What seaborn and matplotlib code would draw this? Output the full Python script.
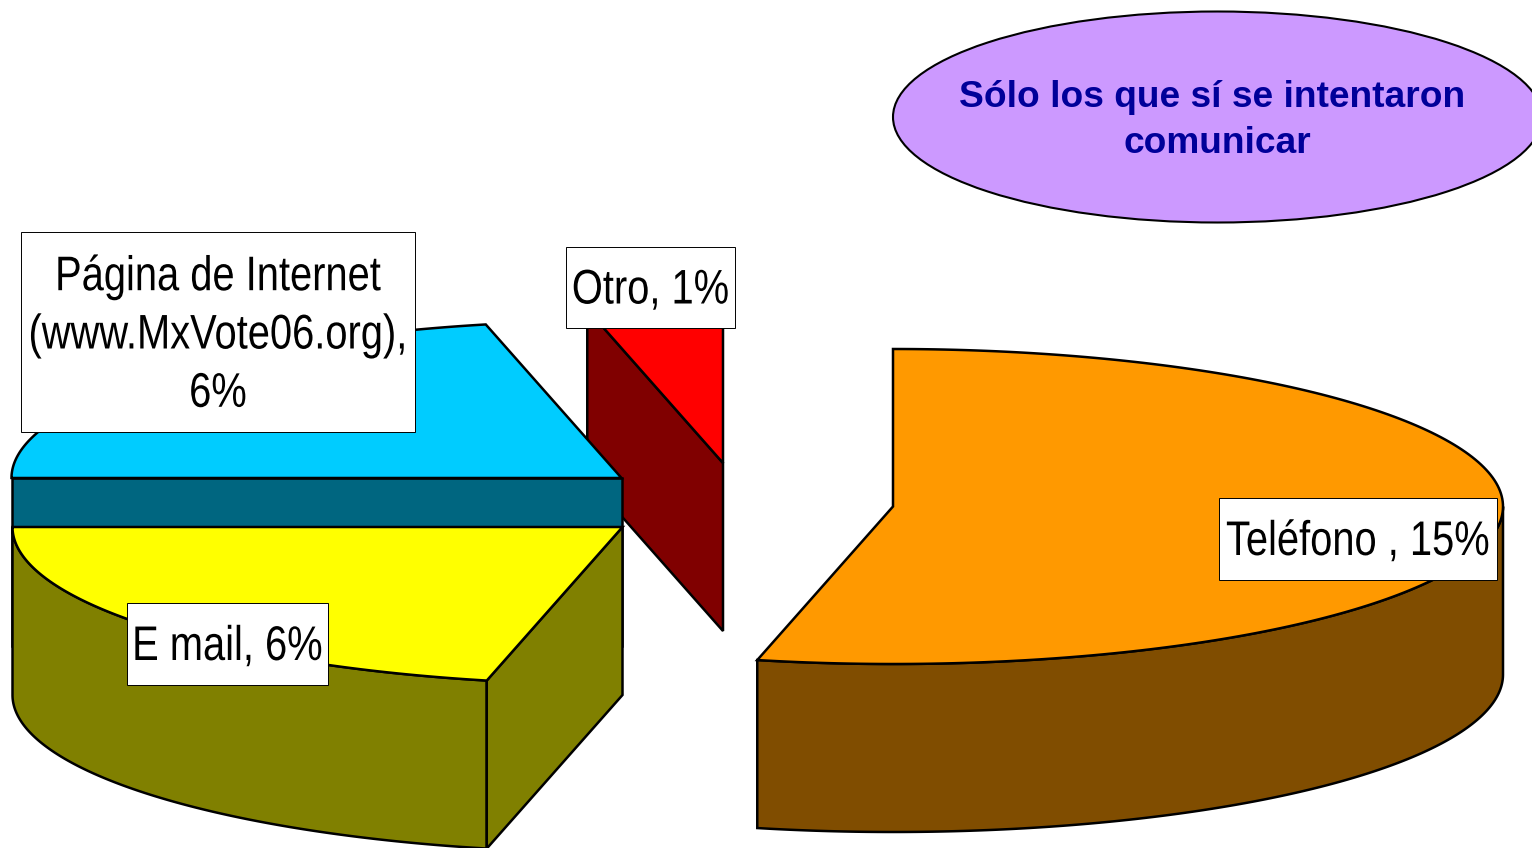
import matplotlib
matplotlib.use('Agg')
import matplotlib.pyplot as plt
import matplotlib.patheffects as pe
from matplotlib.patches import Ellipse, Rectangle
from matplotlib.transforms import Affine2D
import numpy as np
import seaborn as sns

# values of the pie, in drawing order round the circle
categories = ['Teléfono', 'E mail', 'Página de Internet', 'Otro']
values = [15, 6, 6, 1]
labels = ['Teléfono , 15%', 'E mail, 6%', 'Página de Internet\n(www.MxVote06.org),\n6%', 'Otro, 1%']
top_colors = ['#FF9900', '#FFFF00', '#00CCFF', '#FF0000']
side_colors = ['#804D00', '#808000', '#006680', '#800000']
note = 'Sólo los que sí se intentaron \ncomunicar'

# where each exploded slice sits and where its label box goes, in pixels
centers = [(893, 506.5), (622.5, 527), (621.5, 478), (723, 463)]
boxes = [(1219, 498, 278, 82), (127, 603, 201, 82), (21, 232, 394, 200), (566, 247, 169, 81)]
RX, RY, DEPTH = 610, 157.5, 168
LW = 1.8
NARROW = 0.82  # no Arial Narrow here, so the labels get squeezed when drawn


class Squeeze(pe.AbstractPathEffect):
    # narrows the glyphs around anchor and puts them back centred on center
    def __init__(self, anchor, center):
        super().__init__()
        self.anchor = anchor
        self.center = center

    def draw_path(self, renderer, gc, tpath, affine, rgbFace=None):
        squeeze = Affine2D().translate(-self.anchor, 0).scale(NARROW, 1).translate(self.center, 0)
        renderer.draw_path(gc, tpath, affine + squeeze, rgbFace)


sns.set_theme(style='white')
plt.rcParams['font.family'] = ['Liberation Sans', 'DejaVu Sans']

fig, ax = plt.subplots(figsize=(15.32, 8.48), dpi=100)
ax.set_position([0, 0, 1, 1])
ax.set_xlim(0, 1532)
ax.set_ylim(848, 0)
ax.axis('off')


def arc(center, a0, a1):
    t = np.radians(np.linspace(a0, a1, 200))
    return center[0] + RX * np.sin(t), center[1] - RY * np.cos(t)


def wall(xs, ys, color, z):
    # extrude a line downwards by the pie depth
    xs, ys = np.asarray(xs, float), np.asarray(ys, float)
    ax.fill(np.r_[xs, xs[::-1]], np.r_[ys, ys[::-1] + DEPTH], facecolor=color,
            edgecolor='black', lw=LW, zorder=z)


angles = np.cumsum([0] + values) / sum(values) * 360
# back slices first so the front ones cover them
for z, i in enumerate([3, 0, 2, 1]):
    c = centers[i]
    a0, a1 = angles[i], angles[i + 1]
    # outer rim, only the part that faces the viewer (90 to 270 degrees)
    lo, hi = max(a0, 90), min(a1, 270)
    if lo < hi:
        wall(*arc(c, lo, hi), side_colors[i], z)
    # the cut face at the start of the slice shows on all but the first one
    if i > 0:
        ex, ey = arc(c, a0, a0)
        wall([c[0], ex[0]], [c[1], ey[0]], side_colors[i], z)
    tx, ty = arc(c, a0, a1)
    ax.fill(np.r_[c[0], tx], np.r_[c[1], ty], facecolor=top_colors[i],
            edgecolor='black', lw=LW, zorder=z)

for (x, y, w, h), txt in zip(boxes, labels):
    ax.add_patch(Rectangle((x, y), w, h, facecolor='white', edgecolor='black', lw=0.7, zorder=6))
    mid = x + w / 2
    # anchor keeps the wide unsqueezed layout box inside the figure
    anchor = max(mid, 240)
    t = ax.text(anchor, y + h / 2 + 3.5, txt, ha='center', va='center', fontsize=35,
                color='black', linespacing=1.38, zorder=7)
    t.set_path_effects([Squeeze(anchor, mid)])

ax.add_patch(Ellipse((1217.5, 117), 649, 211, facecolor='#CC99FF', edgecolor='black', lw=1.5, zorder=6))
ax.text(1217, 120.5, note, ha='center', va='center', fontsize=26.7, fontweight='bold',
        color='#000099', linespacing=1.39, zorder=7)

fig.savefig('out.png', dpi=100)
